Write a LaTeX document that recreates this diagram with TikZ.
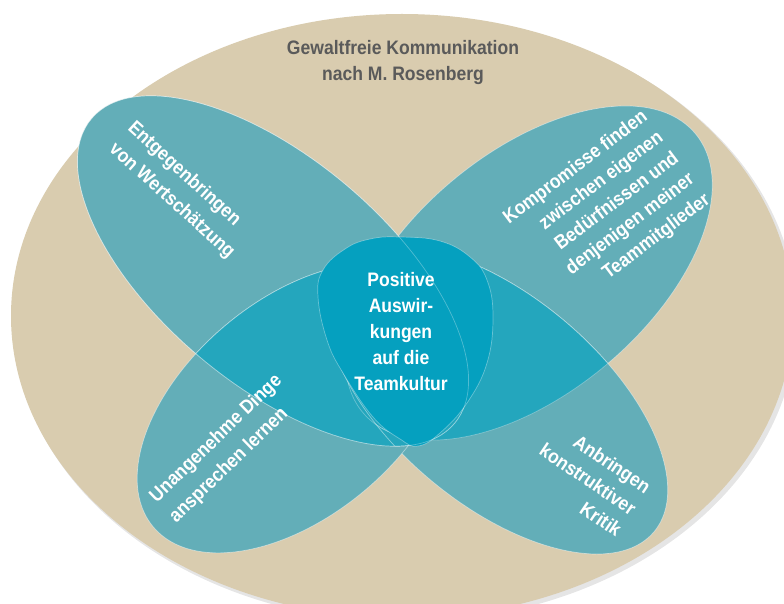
\documentclass[tikz,border=0pt]{standalone}
\usepackage{fontspec}
\setmainfont{Liberation Sans}[FakeStretch=0.9]
\definecolor{beige}{HTML}{D9CCAF}
\definecolor{petal}{HTML}{63AEB8}
\definecolor{overlap}{HTML}{24A6BD}
\definecolor{core}{HTML}{05A0BF}
\definecolor{titlegray}{HTML}{5A5A5A}
\begin{document}
\begin{tikzpicture}[x=1pt,y=1pt,
  rim/.style={draw=white, draw opacity=0.45, line width=0.7pt},
  tlpos/.style={shift={(273,332)},rotate=-40},
  trpos/.style={shift={(529,330)},rotate=40},
  blpos/.style={shift={(295,195)},rotate=40},
  brpos/.style={shift={(497,203)},rotate=-40},
  lbl/.style={text=white, inner sep=0pt, font=\fontsize{19.5}{26}\selectfont\bfseries},
  lblwide/.style={text=white, inner sep=0pt, font=\fontsize{19.5}{28}\selectfont\bfseries},
]
\useasboundingbox (0,0) rectangle (784,603);
\clip (0,0) rectangle (784,603);
\fill[white] (0,0) rectangle (784,603);
% big background ellipse with faint shadow
\fill[black, opacity=0.10] (405,284) ellipse [x radius=392, y radius=303];
\fill[beige] (402,287) ellipse [x radius=391, y radius=302];
% petals
\filldraw[fill=petal, rim, trpos] (0,0) ellipse [x radius=217, y radius=120];
\filldraw[fill=petal, rim, tlpos] (0,0) ellipse [x radius=237, y radius=113];
\filldraw[fill=petal, rim, brpos] (0,0) ellipse [x radius=205, y radius=104];
\filldraw[fill=petal, rim, blpos] (0,0) ellipse [x radius=185, y radius=108];
% overlaps of upper and lower petals
\begin{scope}
  \clip[tlpos] (0,0) ellipse [x radius=237, y radius=113];
  \filldraw[fill=overlap, rim, blpos] (0,0) ellipse [x radius=185, y radius=108];
  \filldraw[fill=overlap, rim, brpos] (0,0) ellipse [x radius=205, y radius=104];
\end{scope}
\begin{scope}
  \clip[trpos] (0,0) ellipse [x radius=217, y radius=120];
  \filldraw[fill=overlap, rim, blpos] (0,0) ellipse [x radius=185, y radius=108];
  \filldraw[fill=overlap, rim, brpos] (0,0) ellipse [x radius=205, y radius=104];
\end{scope}
\begin{scope}
  \clip[blpos] (0,0) ellipse [x radius=185, y radius=108];
  \draw[rim, draw opacity=0.3, tlpos] (0,0) ellipse [x radius=237, y radius=113];
  \draw[rim, draw opacity=0.3, trpos] (0,0) ellipse [x radius=217, y radius=120];
\end{scope}
\begin{scope}
  \clip[brpos] (0,0) ellipse [x radius=205, y radius=104];
  \draw[rim, draw opacity=0.3, tlpos] (0,0) ellipse [x radius=237, y radius=113];
  \draw[rim, draw opacity=0.3, trpos] (0,0) ellipse [x radius=217, y radius=120];
\end{scope}
% central shape
\filldraw[fill=core, rim, draw opacity=0.35] plot[smooth cycle, tension=0.7] coordinates {
  (400,366) (440,362) (470,346) (487,323) (493,286) (487,240) (467,200)
  (440,170) (418,157) (400,164) (373,186) (343,230) (327,263) (318,306)
  (323,333) (345,354) (370,364)};
\draw[rim, draw opacity=0.3, tlpos] (0,0) ellipse [x radius=237, y radius=113];
% texts
\node[text=titlegray, inner sep=0pt, align=center,
  font=\fontsize{19.5}{26}\selectfont\bfseries] (title) at (403,540)
  {Gewaltfreie Kommunikation\\nach M. Rosenberg};
\node[lbl, align=center] (coretext) at (401,271)
  {Positive\\Auswir-\\kungen\\auf die\\Teamkultur};
\node[lblwide, align=left, rotate=-42] (tltext) at (181,412.5)
  {Entgegenbringen\\von Wertschätzung};
\node[lbl, align=right, rotate=37] (trtext) at (607,393.5)
  {Kompromisse finden\\zwischen eigenen\\Bedürfnissen und\\denjenigen meiner\\Teammitglieder};
\node[lblwide, align=left, rotate=44] (bltext) at (226,154)
  {Unangenehme Dinge\\ansprechen lernen};
\node[lbl, align=right, rotate=-34] (brtext) at (588,124)
  {Anbringen\\konstruktiver\\Kritik};
\end{tikzpicture}
\end{document}
